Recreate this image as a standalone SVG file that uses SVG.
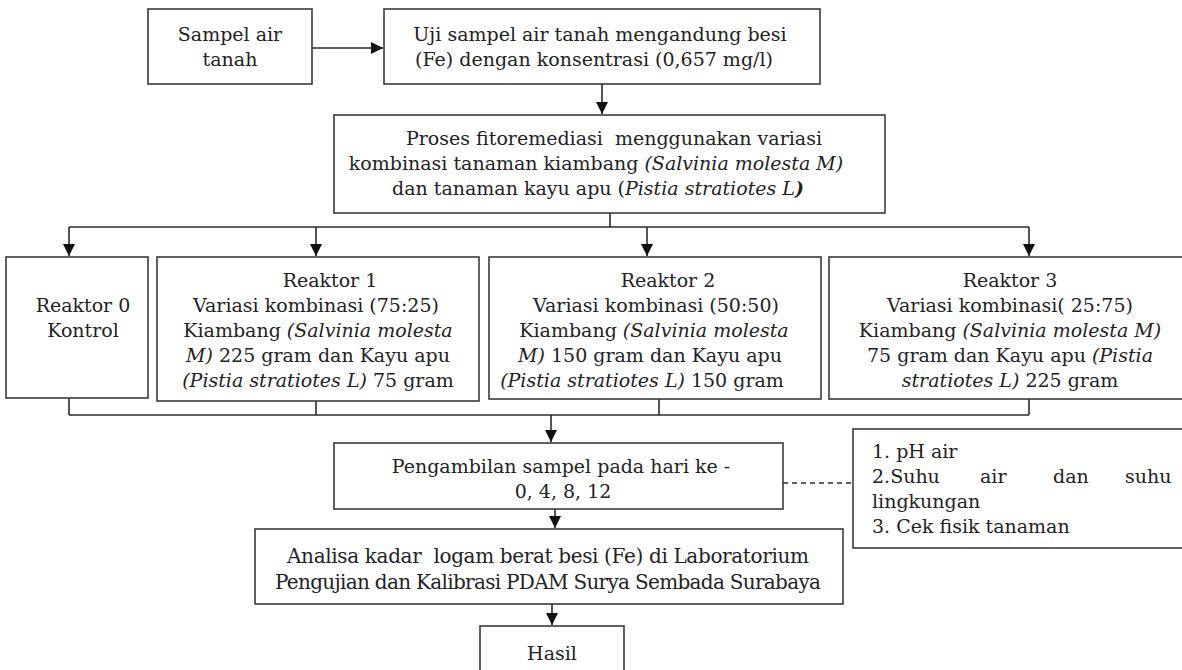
<svg xmlns="http://www.w3.org/2000/svg" width="1182" height="670" viewBox="0 0 1182 670">
<style>
.box{fill:#fff;stroke:#3a3a3a;stroke-width:1.6}
.ln{fill:none;stroke:#2a2a2a;stroke-width:1.6}
.dash{fill:none;stroke:#2a2a2a;stroke-width:1.3;stroke-dasharray:5 4}
text{font-family:"DejaVu Serif","Liberation Serif",serif;font-size:19px;fill:#222}
.c{text-anchor:middle}
.i{font-style:italic}
.b{font-weight:bold}
.big{font-size:20px}
</style>
<defs>
<marker id="ah" markerWidth="12" markerHeight="12" refX="12" refY="6" orient="auto" markerUnits="userSpaceOnUse">
<path d="M0,0 L12,6 L0,12 Z" fill="#111"/>
</marker>
</defs>
<rect width="1182" height="670" fill="#fff"/>
<g id="connectors">
<line class="ln" x1="312" y1="48" x2="383" y2="48" marker-end="url(#ah)"/>
<line class="ln" x1="602" y1="84" x2="602" y2="114" marker-end="url(#ah)"/>
<polyline class="ln" points="610,213 610,227"/>
<line class="ln" x1="69" y1="227" x2="1029" y2="227"/>
<line class="ln" x1="69" y1="227" x2="69" y2="256" marker-end="url(#ah)"/>
<line class="ln" x1="316" y1="227" x2="316" y2="256" marker-end="url(#ah)"/>
<line class="ln" x1="647" y1="227" x2="647" y2="256" marker-end="url(#ah)"/>
<line class="ln" x1="1029" y1="227" x2="1029" y2="256" marker-end="url(#ah)"/>
<line class="ln" x1="69" y1="398" x2="69" y2="415"/>
<line class="ln" x1="316" y1="401" x2="316" y2="415"/>
<line class="ln" x1="659" y1="399" x2="659" y2="415"/>
<line class="ln" x1="1029" y1="399" x2="1029" y2="415"/>
<line class="ln" x1="69" y1="415" x2="1029" y2="415"/>
<line class="ln" x1="551" y1="415" x2="551" y2="442" marker-end="url(#ah)"/>
<line class="dash" x1="783" y1="483" x2="853" y2="483"/>
<line class="ln" x1="555" y1="509" x2="555" y2="528" marker-end="url(#ah)"/>
<line class="ln" x1="552" y1="604" x2="552" y2="625" marker-end="url(#ah)"/>
</g>
<g id="sampel">
<rect class="box" x="148" y="9" width="164" height="75"/>
<text class="c" x="230" y="41">Sampel air</text>
<text class="c" x="230" y="66">tanah</text>
</g>
<g id="uji">
<rect class="box" x="384" y="9" width="436" height="75"/>
<text class="c" x="600" y="41">Uji sampel air tanah mengandung besi</text>
<text class="c" x="594" y="66">(Fe) dengan konsentrasi (0,657 mg/l)</text>
</g>
<g id="proses">
<rect class="box" x="334" y="115" width="551" height="98"/>
<text class="c" x="614" y="145" xml:space="preserve">Proses fitoremediasi  menggunakan variasi</text>
<text class="c" x="596" y="170">kombinasi tanaman kiambang <tspan class="i">(Salvinia molesta M)</tspan></text>
<text class="c" x="598" y="195">dan tanaman kayu apu (<tspan class="i">Pistia stratiotes L</tspan><tspan class="b i">)</tspan></text>
</g>
<g id="reaktor0">
<rect class="box" x="6" y="257" width="142" height="141"/>
<text class="c" x="83" y="312">Reaktor 0</text>
<text class="c" x="83" y="337">Kontrol</text>
</g>
<g id="reaktor1">
<rect class="box" x="157" y="257" width="322" height="144"/>
<text class="c" x="330" y="287">Reaktor 1</text>
<text class="c" x="316" y="312">Variasi kombinasi (75:25)</text>
<text class="c" x="318" y="337">Kiambang <tspan class="i">(Salvinia molesta</tspan></text>
<text class="c" x="318" y="362"><tspan class="i">M)</tspan> 225 gram dan Kayu apu</text>
<text class="c" x="318" y="387"><tspan class="i">(Pistia stratiotes L)</tspan> 75 gram</text>
</g>
<g id="reaktor2">
<rect class="box" x="489" y="257" width="332" height="142"/>
<text class="c" x="668" y="287">Reaktor 2</text>
<text class="c" x="656" y="312">Variasi kombinasi (50:50)</text>
<text class="c" x="654" y="337">Kiambang <tspan class="i">(Salvinia molesta</tspan></text>
<text class="c" x="650" y="362"><tspan class="i">M)</tspan> 150 gram dan Kayu apu</text>
<text class="c" x="642" y="387"><tspan class="i">(Pistia stratiotes L)</tspan> 150 gram</text>
</g>
<g id="reaktor3">
<rect class="box" x="829" y="257" width="363" height="142"/>
<text class="c" x="1010" y="287">Reaktor 3</text>
<text class="c" x="1010" y="312">Variasi kombinasi( 25:75)</text>
<text class="c" x="1010" y="337">Kiambang <tspan class="i">(Salvinia molesta M)</tspan></text>
<text class="c" x="1010" y="362">75 gram dan Kayu apu <tspan class="i">(Pistia</tspan></text>
<text class="c" x="1010" y="387"><tspan class="i">stratiotes L)</tspan> 225 gram</text>
</g>
<g id="pengambilan">
<rect class="box" x="334" y="443" width="449" height="66"/>
<text class="c" x="561" y="473">Pengambilan sampel pada hari ke -</text>
<text class="c" x="563" y="498">0, 4, 8, 12</text>
</g>
<g id="parameter">
<rect class="box" x="853" y="429" width="340" height="119"/>
<text x="872" y="458">1. pH air</text>
<text x="872" y="483">2.Suhu</text>
<text x="980" y="483">air</text>
<text x="1053" y="483">dan</text>
<text x="1125" y="483">suhu</text>
<text x="872" y="508">lingkungan</text>
<text x="872" y="533">3. Cek fisik tanaman</text>
</g>
<g id="analisa">
<rect class="box" x="255" y="529" width="588" height="75"/>
<text class="big" x="287" y="563" textLength="522" xml:space="preserve">Analisa kadar  logam berat besi (Fe) di Laboratorium</text>
<text class="big" x="275" y="589" textLength="546">Pengujian dan Kalibrasi PDAM Surya Sembada Surabaya</text>
</g>
<g id="hasil">
<rect class="box" x="480" y="626" width="144" height="60"/>
<text class="c" x="552" y="660">Hasil</text>
</g>
</svg>
